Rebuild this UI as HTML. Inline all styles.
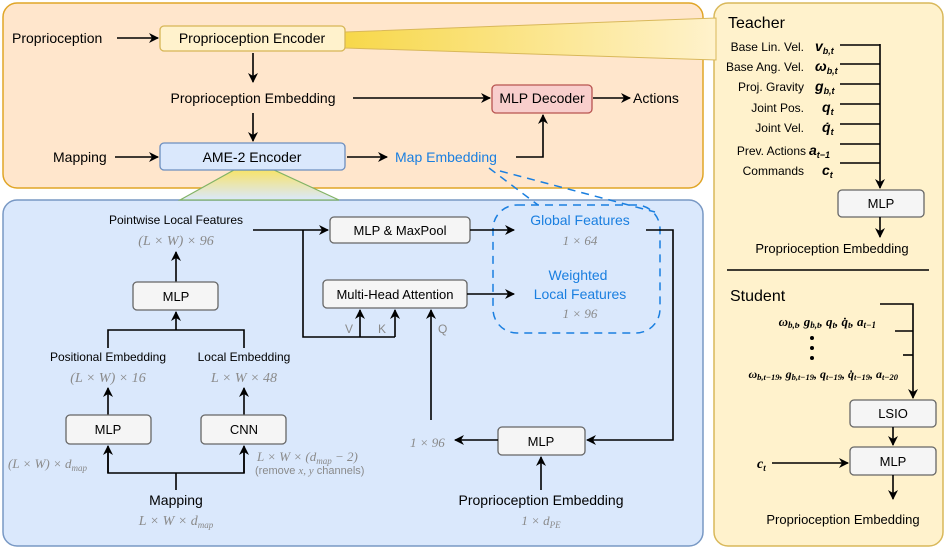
<!DOCTYPE html>
<html><head><meta charset="utf-8"><style>
html,body{margin:0;padding:0;background:#fff}
svg text{font-family:"Liberation Sans",sans-serif}
.m{font-family:"Liberation Serif",serif;font-style:italic}
.g{fill:#8a8a8a}
.b{fill:#1a7fe0}
</style></head><body>
<svg width="946" height="549" viewBox="0 0 946 549" xmlns="http://www.w3.org/2000/svg">
<defs>
<marker id="a" viewBox="0 0 10 10" refX="9" refY="5" markerWidth="10" markerHeight="10" orient="auto-start-reverse" markerUnits="userSpaceOnUse"><path d="M0,0 L10,5 L0,10 L3,5 z" fill="#000"/></marker>
<linearGradient id="yb" x1="0" x2="1" y1="0" y2="0"><stop offset="0" stop-color="#f7d84a"/><stop offset="1" stop-color="#fff2cc"/></linearGradient>
<linearGradient id="gb" x1="0" x2="0" y1="0" y2="1"><stop offset="0" stop-color="#f7e36a"/><stop offset="1" stop-color="#dae8fc"/></linearGradient>
</defs>
<style>
line,polyline,path.l{stroke:#000;stroke-width:1.6;fill:none}
.bx{fill:#f5f5f5;stroke:#666;stroke-width:1.3}
</style>
<rect x="3" y="3" width="700" height="185" rx="14" fill="#ffe6cc" stroke="#e0a526" stroke-width="1.5"/>
<rect x="3" y="200" width="700" height="346" rx="14" fill="#dae8fc" stroke="#7898c4" stroke-width="1.5"/>
<rect x="714" y="3" width="229" height="543" rx="14" fill="#fff2cc" stroke="#d9b85a" stroke-width="1.5"/>
<polygon points="345,32 716,18 716,60 345,48" fill="url(#yb)" stroke="#d9b85a" stroke-width="1"/>
<polygon points="234,170 274,170 339,200 180,200" fill="url(#gb)" stroke="#82b366" stroke-width="1.2"/>
<text x="12" y="43" font-size="14">Proprioception</text>
<line x1="117" y1="38" x2="158" y2="38" marker-end="url(#a)"/>
<rect x="160" y="26" width="185" height="25" rx="4" fill="#fff2cc" stroke="#d6b656" stroke-width="1.3"/>
<text x="252" y="43" font-size="14" text-anchor="middle">Proprioception Encoder</text>
<line x1="253" y1="53" x2="253" y2="82" marker-end="url(#a)"/>
<text x="253" y="103" font-size="14" text-anchor="middle">Proprioception Embedding</text>
<line x1="353" y1="98" x2="490" y2="98" marker-end="url(#a)"/>
<rect x="492" y="85" width="100" height="28" rx="4" fill="#f8cecc" stroke="#b85450" stroke-width="1.3"/>
<text x="542" y="103" font-size="14" text-anchor="middle">MLP Decoder</text>
<line x1="593" y1="98" x2="630" y2="98" marker-end="url(#a)"/>
<text x="633" y="103" font-size="14">Actions</text>
<line x1="253" y1="113" x2="253" y2="141" marker-end="url(#a)"/>
<text x="53" y="162" font-size="14">Mapping</text>
<line x1="115" y1="157" x2="158" y2="157" marker-end="url(#a)"/>
<rect x="160" y="143" width="185" height="27" rx="4" fill="#dae8fc" stroke="#6c8ebf" stroke-width="1.3"/>
<text x="252" y="162" font-size="14" text-anchor="middle">AME-2 Encoder</text>
<line x1="347" y1="157" x2="387" y2="157" marker-end="url(#a)"/>
<text x="395" y="162" font-size="14" class="b">Map Embedding</text>
<polyline points="516,157 543,157 543,115" marker-end="url(#a)"/>
<line x1="489" y1="168" x2="538" y2="205" style="stroke:#1a7fe0;stroke-dasharray:8,6;stroke-width:1.5"/>
<line x1="500" y1="171" x2="655" y2="212" style="stroke:#1a7fe0;stroke-dasharray:8,6;stroke-width:1.5"/>
<rect x="493" y="205" width="167" height="128" rx="24" fill="none" stroke="#1a7fe0" stroke-width="1.5" stroke-dasharray="8,6"/>
<text x="176" y="224" font-size="12" text-anchor="middle">Pointwise Local Features</text>
<text x="176" y="245" font-size="14" text-anchor="middle" class="m g">(L × W) × 96</text>
<line x1="176" y1="282" x2="176" y2="252" marker-end="url(#a)"/>
<rect x="133" y="282" width="85" height="28" rx="4" class="bx"/>
<text x="176" y="301" font-size="13" text-anchor="middle">MLP</text>
<polyline points="108,348 108,330 244,330 244,348"/>
<line x1="176" y1="330" x2="176" y2="312" marker-end="url(#a)"/>
<text x="108" y="361" font-size="12" text-anchor="middle">Positional Embedding</text>
<text x="108" y="382" font-size="14" text-anchor="middle" class="m g">(L × W) × 16</text>
<text x="244" y="361" font-size="12" text-anchor="middle">Local Embedding</text>
<text x="244" y="382" font-size="14" text-anchor="middle" class="m g">L × W × 48</text>
<line x1="108" y1="415" x2="108" y2="388" marker-end="url(#a)"/>
<line x1="244" y1="415" x2="244" y2="388" marker-end="url(#a)"/>
<rect x="66" y="415" width="85" height="29" rx="4" class="bx"/>
<text x="108" y="434" font-size="13" text-anchor="middle">MLP</text>
<rect x="201" y="415" width="85" height="29" rx="4" class="bx"/>
<text x="244" y="434" font-size="13" text-anchor="middle">CNN</text>
<polyline points="108,447 108,473 244,473 244,447"/>
<line x1="108" y1="473" x2="108" y2="446" marker-end="url(#a)"/>
<line x1="244" y1="473" x2="244" y2="446" marker-end="url(#a)"/>
<line x1="176" y1="473" x2="176" y2="490"/>
<text x="8" y="468" font-size="13" class="m g">(L × W) × d<tspan font-size="9" dy="3">map</tspan></text>
<text x="257" y="461" font-size="13" class="m g">L × W × (d<tspan font-size="9" dy="3">map</tspan><tspan dy="-3"> − 2)</tspan></text>
<text x="255" y="474" font-size="11" class="g">(remove <tspan class="m">x, y</tspan> channels)</text>
<text x="176" y="505" font-size="14" text-anchor="middle">Mapping</text>
<text x="176" y="525" font-size="14" text-anchor="middle" class="m g">L × W × d<tspan font-size="9" dy="3">map</tspan></text>
<line x1="253" y1="230" x2="328" y2="230" marker-end="url(#a)"/>
<rect x="330" y="217" width="140" height="26" rx="4" class="bx"/>
<text x="400" y="235" font-size="13" text-anchor="middle">MLP &amp; MaxPool</text>
<polyline points="303,230 303,337 395,337"/>
<line x1="360" y1="337" x2="360" y2="310" marker-end="url(#a)"/>
<line x1="395" y1="337" x2="395" y2="310" marker-end="url(#a)"/>
<rect x="323" y="280" width="144" height="28" rx="4" class="bx"/>
<text x="395" y="299" font-size="13" text-anchor="middle">Multi-Head Attention</text>
<text x="345" y="333" font-size="12" class="g">V</text>
<text x="378" y="333" font-size="12" class="g">K</text>
<text x="438" y="333" font-size="12" class="g">Q</text>
<line x1="431" y1="420" x2="431" y2="310" marker-end="url(#a)"/>
<line x1="470" y1="230" x2="514" y2="230" marker-end="url(#a)"/>
<line x1="467" y1="294" x2="514" y2="294" marker-end="url(#a)"/>
<text x="580" y="225" font-size="14" text-anchor="middle" class="b">Global Features</text>
<text x="580" y="245" font-size="13" text-anchor="middle" class="m g">1 × 64</text>
<text x="578" y="280" font-size="14" text-anchor="middle" class="b">Weighted</text>
<text x="580" y="299" font-size="14" text-anchor="middle" class="b">Local Features</text>
<text x="580" y="318" font-size="13" text-anchor="middle" class="m g">1 × 96</text>
<polyline points="646,230 673,230 673,440 587,440" marker-end="url(#a)"/>
<rect x="498" y="427" width="87" height="28" rx="4" class="bx"/>
<text x="541" y="446" font-size="13" text-anchor="middle">MLP</text>
<line x1="498" y1="440" x2="455" y2="440" marker-end="url(#a)"/>
<text x="410" y="447" font-size="13" class="m g">1 × 96</text>
<line x1="541" y1="490" x2="541" y2="457" marker-end="url(#a)"/>
<text x="541" y="505" font-size="14" text-anchor="middle">Proprioception Embedding</text>
<text x="541" y="525" font-size="13" text-anchor="middle" class="m g">1 × d<tspan font-size="9" dy="3">PE</tspan></text>
<text x="728" y="28" font-size="16">Teacher</text>
<g font-size="12" text-anchor="end">
<text x="804" y="51">Base Lin. Vel.</text>
<text x="804" y="71">Base Ang. Vel.</text>
<text x="804" y="91">Proj. Gravity</text>
<text x="804" y="112">Joint Pos.</text>
<text x="804" y="132">Joint Vel.</text>
<text x="806" y="155">Prev. Actions</text>
<text x="804" y="175">Commands</text>
</g>
<g font-size="14" class="m" font-weight="bold">
<text x="815" y="51">v<tspan font-size="9" dy="3">b,t</tspan></text>
<text x="815" y="71">ω<tspan font-size="9" dy="3">b,t</tspan></text>
<text x="815" y="91">g<tspan font-size="9" dy="3">b,t</tspan></text>
<text x="822" y="112">q<tspan font-size="9" dy="3">t</tspan></text>
<text x="822" y="132">q̇<tspan font-size="9" dy="3">t</tspan></text>
<text x="809" y="155">a<tspan font-size="9" dy="3">t−1</tspan></text>
<text x="822" y="175">c<tspan font-size="9" dy="3">t</tspan></text>
</g>
<g>
<line x1="840" y1="45" x2="880" y2="45"/><line x1="840" y1="64" x2="880" y2="64"/>
<line x1="840" y1="84" x2="880" y2="84"/><line x1="840" y1="104" x2="880" y2="104"/>
<line x1="840" y1="124" x2="880" y2="124"/><line x1="840" y1="144" x2="880" y2="144"/>
<line x1="840" y1="163" x2="880" y2="163"/>
</g>
<line x1="880" y1="44" x2="880" y2="188" marker-end="url(#a)"/>
<rect x="838" y="190" width="86" height="27" rx="4" class="bx"/>
<text x="881" y="208" font-size="13" text-anchor="middle">MLP</text>
<line x1="880" y1="217" x2="880" y2="237" marker-end="url(#a)"/>
<text x="832" y="253" font-size="13" text-anchor="middle">Proprioception Embedding</text>
<line x1="727" y1="270" x2="929" y2="270"/>
<text x="730" y="301" font-size="16">Student</text>
<text x="876" y="326" font-size="13" text-anchor="end" class="m" font-weight="bold">ω<tspan font-size="9" dy="2">b,t</tspan><tspan dy="-2">, g</tspan><tspan font-size="9" dy="2">b,t</tspan><tspan dy="-2">, q</tspan><tspan font-size="9" dy="2">t</tspan><tspan dy="-2">, q̇</tspan><tspan font-size="9" dy="2">t</tspan><tspan dy="-2">, a</tspan><tspan font-size="9" dy="2">t−1</tspan></text>
<circle cx="812" cy="338" r="2"/><circle cx="812" cy="348" r="2"/><circle cx="812" cy="358" r="2"/>
<text x="898" y="378" font-size="12" text-anchor="end" class="m" font-weight="bold">ω<tspan font-size="8.5" dy="2">b,t−19</tspan><tspan dy="-2">, g</tspan><tspan font-size="8.5" dy="2">b,t−19</tspan><tspan dy="-2">, q</tspan><tspan font-size="8.5" dy="2">t−19</tspan><tspan dy="-2">, q̇</tspan><tspan font-size="8.5" dy="2">t−19</tspan><tspan dy="-2">, a</tspan><tspan font-size="8.5" dy="2">t−20</tspan></text>
<polyline points="880,304 913,304 913,398" marker-end="url(#a)"/>
<line x1="895" y1="331" x2="913" y2="331"/>
<line x1="903" y1="355" x2="913" y2="355"/>
<rect x="850" y="400" width="86" height="27" rx="4" class="bx"/>
<text x="893" y="418" font-size="13" text-anchor="middle">LSIO</text>
<line x1="893" y1="427" x2="893" y2="445" marker-end="url(#a)"/>
<rect x="850" y="447" width="86" height="28" rx="4" class="bx"/>
<text x="893" y="466" font-size="13" text-anchor="middle">MLP</text>
<text x="757" y="468" font-size="14" class="m" font-weight="bold">c<tspan font-size="9" dy="3">t</tspan></text>
<line x1="772" y1="463" x2="848" y2="463" marker-end="url(#a)"/>
<line x1="893" y1="475" x2="893" y2="499" marker-end="url(#a)"/>
<text x="843" y="524" font-size="13" text-anchor="middle">Proprioception Embedding</text>
</svg>
</body></html>
